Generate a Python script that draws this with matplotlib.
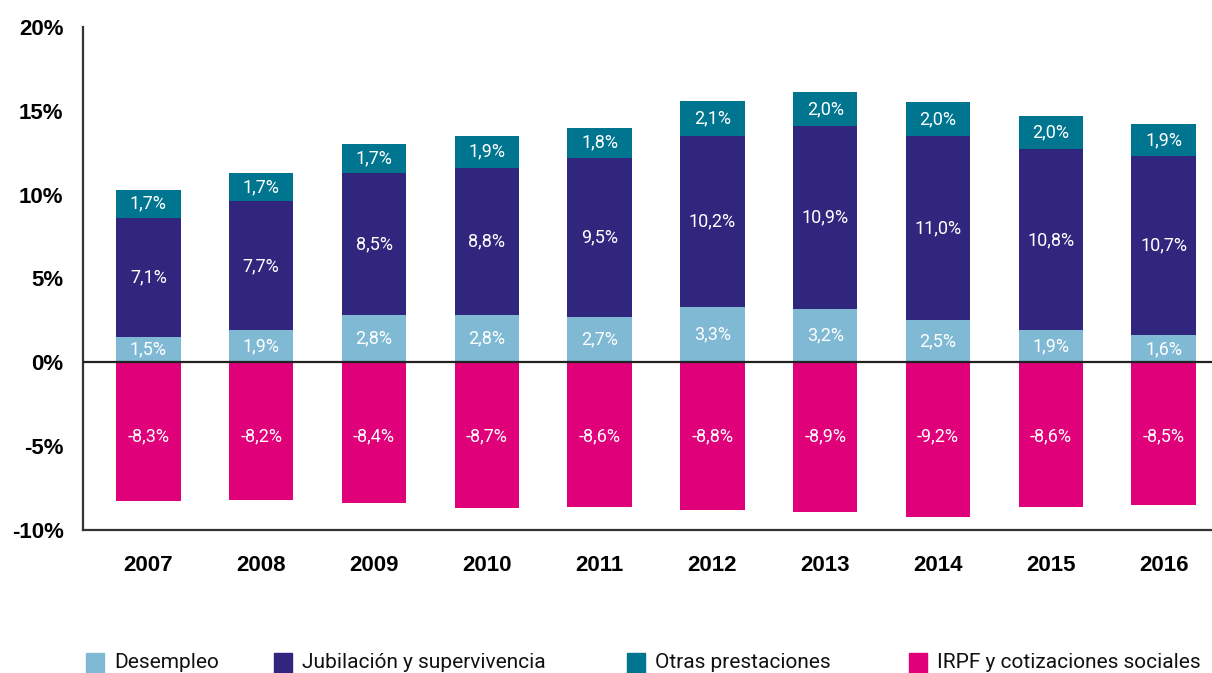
import matplotlib
matplotlib.use("Agg")
import matplotlib.pyplot as plt
import numpy as np
from matplotlib.patches import Rectangle

years = ['2007', '2008', '2009', '2010', '2011', '2012', '2013', '2014', '2015', '2016']
desempleo = [1.5, 1.9, 2.8, 2.8, 2.7, 3.3, 3.2, 2.5, 1.9, 1.6]
jubilacion = [7.1, 7.7, 8.5, 8.8, 9.5, 10.2, 10.9, 11.0, 10.8, 10.7]
otras = [1.7, 1.7, 1.7, 1.9, 1.8, 2.1, 2.0, 2.0, 2.0, 1.9]
irpf = [-8.3, -8.2, -8.4, -8.7, -8.6, -8.8, -8.9, -9.2, -8.6, -8.5]

series_names = ['Desempleo', 'Jubilación y supervivencia', 'Otras prestaciones',
                'IRPF y cotizaciones sociales']
colors = ['#7fb9d4', '#31267e', '#00758f', '#e0007a']

plt.rcParams['font.family'] = ['Roboto', 'DejaVu Sans']

W, H = 1212, 673
fig = plt.figure(figsize=(W / 100, H / 100), dpi=100)
ax = fig.add_axes([0.0685, 0.2125, 0.9315, 0.7475])

x = np.arange(len(years))
w = 0.57

def fmt(v):
    return ('%.1f%%' % v).replace('.', ',')

bottom = np.zeros(len(years))
for vals, col in zip([desempleo, jubilacion, otras], colors[:3]):
    vals = np.array(vals)
    ax.bar(x, vals, w, bottom=bottom, color=col, zorder=2)
    for xi, b, v in zip(x, bottom, vals):
        ax.text(xi, b + v / 2, fmt(v), ha='center', va='center',
                color='white', fontsize=13, zorder=3)
    bottom = bottom + vals

ax.bar(x, irpf, w, color=colors[3], zorder=2)
for xi, v in zip(x, irpf):
    ax.text(xi, -4.4, fmt(v), ha='center', va='center',
            color='white', fontsize=13, zorder=3)

ax.axhline(0, color='#222222', lw=1.6, zorder=4)

ax.set_ylim(-10, 20)
ax.set_xlim(-0.58, 9.43)
ax.set_yticks([-10, -5, 0, 5, 10, 15, 20])
ax.set_yticklabels(['-10%', '-5%', '0%', '5%', '10%', '15%', '20%'],
                   fontsize=16, fontweight='bold', family=['Liberation Sans', 'DejaVu Sans'])
ax.set_xticks(x)
ax.set_xticklabels(years, fontsize=16, fontweight='bold', family=['Liberation Sans', 'DejaVu Sans'])
ax.tick_params(axis='both', length=0)
ax.tick_params(axis='y', pad=14)
ax.tick_params(axis='x', pad=18)

for s in ['top', 'right']:
    ax.spines[s].set_visible(False)
for s in ['left', 'bottom']:
    ax.spines[s].set_color('#333333')
    ax.spines[s].set_linewidth(1.6)

# legend drawn by hand along the bottom
leg_x = [86, 274, 627, 909]
leg_y = 663
for lx, col, name in zip(leg_x, colors, series_names):
    fig.add_artist(Rectangle((lx / W, (H - leg_y - 10) / H), 18 / W, 20 / H,
                             transform=fig.transFigure, color=col))
    fig.text((lx + 28) / W, (H - leg_y) / H, name, ha='left', va='center',
             fontsize=15, color='#111111')

fig.savefig('out.png', dpi=100)
